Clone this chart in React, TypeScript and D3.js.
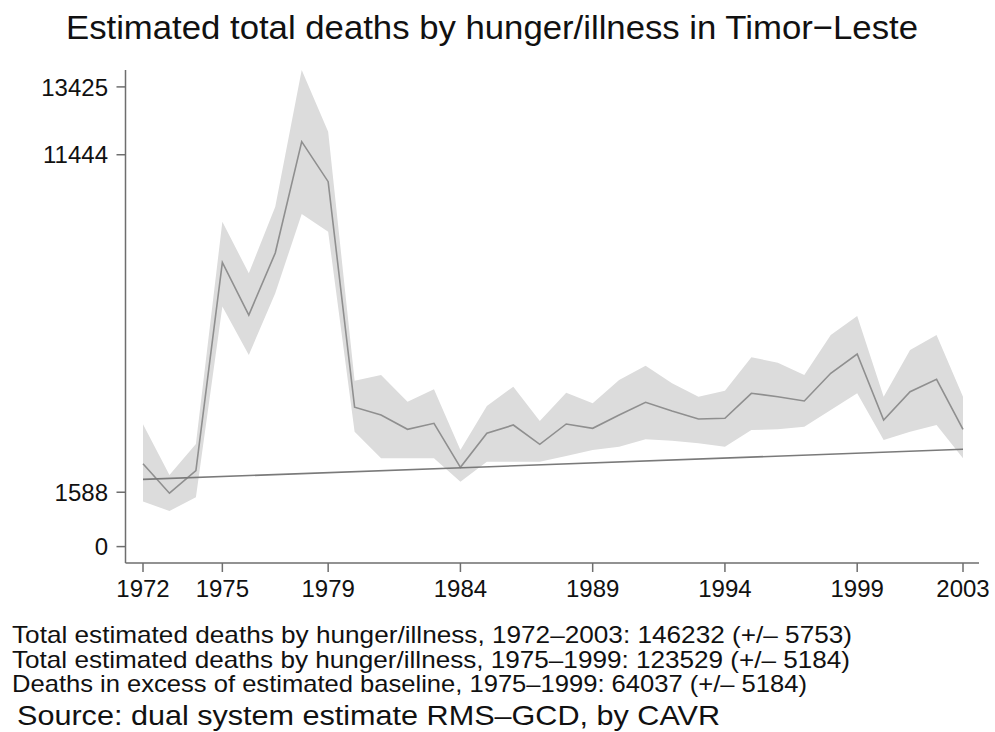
import React from "react";
import * as d3 from "d3";

const years = d3.range(1972, 2004);
const estimate = [2420, 1560, 2220, 8300, 6764, 8574, 11826, 10657, 4070, 3843, 3426, 3601, 2316, 3309, 3551, 2988, 3581, 3455, 3843, 4214, 3960, 3727, 3747, 4477, 4378, 4252, 5061, 5625, 3698, 4524, 4886, 3426];
const upper = [3572, 2091, 2997, 9486, 7982, 9927, 13919, 12117, 4845, 5011, 4232, 4594, 2821, 4106, 4670, 3668, 4495, 4185, 4866, 5283, 4769, 4378, 4553, 5529, 5371, 5011, 6178, 6733, 4378, 5742, 6178, 4378];
const lower = [1317, 1040, 1440, 7010, 5596, 7398, 9714, 9197, 3356, 2579, 2579, 2579, 1896, 2481, 2481, 2481, 2646, 2821, 2918, 3134, 3093, 3017, 2918, 3405, 3426, 3502, 3990, 4477, 3114, 3356, 3551, 2579];
const baselineStart = 1962;
const baselineEnd = 2841;
const yTicks = [0, 1588, 11444, 13425];
const xTicks = [1972, 1975, 1979, 1984, 1989, 1994, 1999, 2003];
const title = "Estimated total deaths by hunger/illness in Timor−Leste";
const notes = [
  "Total estimated deaths by hunger/illness, 1972–2003: 146232 (+/– 5753)",
  "Total estimated deaths by hunger/illness, 1975–1999: 123529 (+/– 5184)",
  "Deaths in excess of estimated baseline, 1975–1999: 64037 (+/– 5184)",
];
const noteWidths = [840, 838, 795];
const source = "Source: dual system estimate RMS–GCD, by CAVR";

export default function App() {
  const W = 995, H = 732;
  const x = d3.scaleLinear().domain([1972, 2003]).range([143, 963]);
  const y = d3.scaleLinear().domain([0, 13425]).range([546.6, 86.9]);
  const font = "'Liberation Sans', Arial, Helvetica, sans-serif";
  const area = d3.area<number>()
    .x((_, i) => x(years[i]))
    .y0((_, i) => y(lower[i]))
    .y1((_, i) => y(upper[i]));
  const line = d3.line<number>().x((_, i) => x(years[i])).y((d) => y(d));
  const axisColor = "#6e6e6e";
  const axisY = 563;
  const axisX = 125.5;
  return (
    <svg width={W} height={H} style={{ position: "absolute", left: 0, top: 0, background: "#fff" }} fontFamily={font}>
      <rect width={W} height={H} fill="#fff" />
      <text x={492} y={38.5} textAnchor="middle" fontSize={34} fill="#111" textLength={852} lengthAdjust="spacingAndGlyphs">{title}</text>
      <path d={area(estimate) || ""} fill="#dcdcdc" stroke="none" />
      <path d={line(estimate) || ""} fill="none" stroke="#8f8f8f" strokeWidth={1.6} />
      <line x1={x(1972)} x2={x(2003)} y1={y(baselineStart)} y2={y(baselineEnd)} stroke="#7a7a7a" strokeWidth={1.6} />
      <line x1={axisX} x2={axisX} y1={70} y2={axisY} stroke={axisColor} strokeWidth={1.5} />
      <line x1={axisX} x2={979} y1={axisY} y2={axisY} stroke={axisColor} strokeWidth={1.5} />
      {yTicks.map((t) => (
        <g key={t}>
          <line x1={axisX - 9} x2={axisX} y1={y(t)} y2={y(t)} stroke={axisColor} strokeWidth={1.5} />
          <text x={108} y={y(t)} dy="0.36em" textAnchor="end" fontSize={24} fill="#111">{t}</text>
        </g>
      ))}
      {xTicks.map((t) => (
        <g key={t}>
          <line x1={x(t)} x2={x(t)} y1={axisY} y2={axisY + 9} stroke={axisColor} strokeWidth={1.5} />
          <text x={x(t)} y={596.5} textAnchor="middle" fontSize={24} fill="#111">{t}</text>
        </g>
      ))}
      {notes.map((n, i) => (
        <text key={i} x={12} y={643 + i * 24.5} fontSize={24} fill="#111" textLength={noteWidths[i]} lengthAdjust="spacingAndGlyphs">{n}</text>
      ))}
      <text x={17} y={725} fontSize={27.5} fill="#111" textLength={703} lengthAdjust="spacingAndGlyphs">{source}</text>
    </svg>
  );
}
